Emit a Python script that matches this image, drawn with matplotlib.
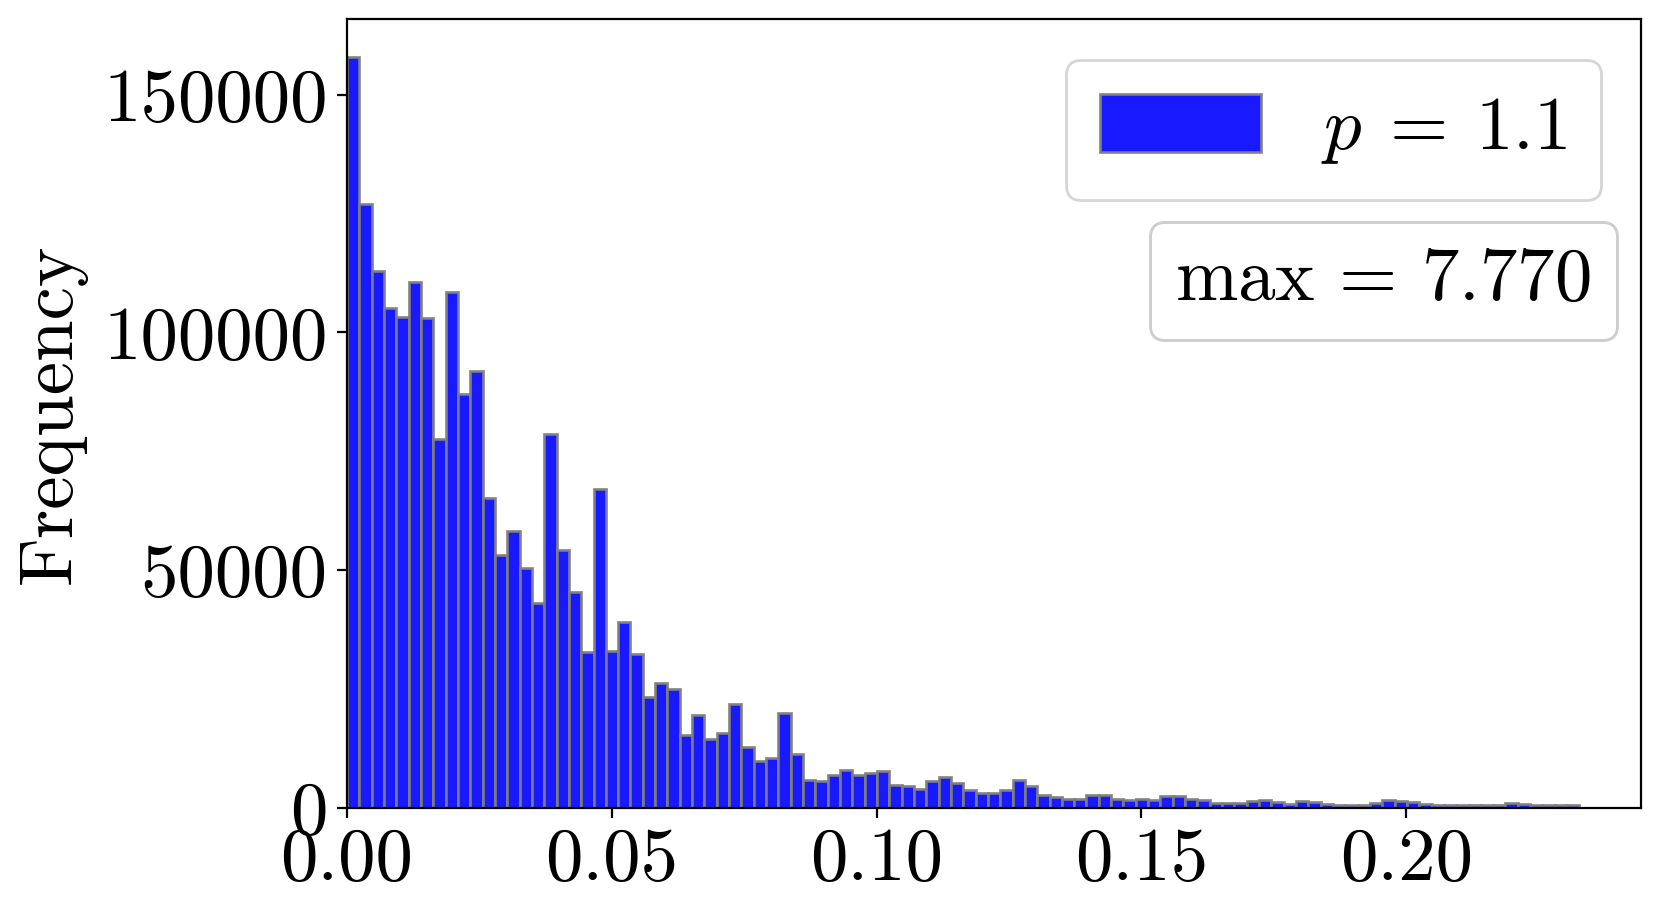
import numpy as np
from matplotlib import pyplot as plt
from matplotlib.offsetbox import AnchoredText

plt.rcParams["font.family"] = "serif"
plt.rcParams["font.serif"] = ["cmr10"]
plt.rcParams["mathtext.fontset"] = "cm"
plt.rcParams["axes.formatter.use_mathtext"] = True

# histogram: 100 equal bins from 0 to the max value
x_max = 0.2327
n_bins = 100
counts = [
    158000, 127000, 113000, 105100, 103300, 110700, 103000, 77600, 108500, 87000,
    91800, 65100, 53200, 58300, 50500, 43100, 78700, 54200, 45500, 32800,
    67000, 33000, 39100, 32400, 23300, 26300, 25000, 15400, 19600, 14500,
    15700, 21800, 12800, 9800, 10600, 19900, 11400, 6000, 5600, 6900,
    8000, 6900, 7300, 7700, 4900, 4600, 4000, 5600, 6600, 5300,
    3700, 3200, 3200, 3700, 5800, 4700, 2800, 2300, 2000, 2000,
    2700, 2800, 2000, 1700, 1900, 1750, 2500, 2500, 2000, 1700,
    1100, 1100, 1100, 1500, 1700, 1200, 850, 1500, 1200, 900,
    700, 650, 700, 1100, 1700, 1500, 1200, 850, 700, 550,
    550, 550, 600, 600, 1100, 750, 600, 550, 550, 550,
]
label = r"$p\:=\:1.1$"
max_text = r"$\max\,=\,7.770$"

fs = 27
fig, ax = plt.subplots(figsize=(8.31, 4.61), dpi=200)
fig.subplots_adjust(left=0.2088, right=0.9874, top=0.9794, bottom=0.1236)

edges = np.linspace(0, x_max, n_bins + 1)
ax.hist(edges[:-1], bins=edges, weights=counts, color="blue", alpha=0.9,
        edgecolor="grey", linewidth=1.0, label=label)

ax.set_xlim(0, x_max * 1.05)
ax.set_ylim(0, max(counts) * 1.05)
ax.set_xticks([0.0, 0.05, 0.10, 0.15, 0.20])
ax.set_xticklabels(["0.00", "0.05", "0.10", "0.15", "0.20"])
ax.set_yticks([0, 50000, 100000, 150000])
ax.set_yticklabels(["0", "50000", "100000", "150000"])
ax.tick_params(labelsize=fs)
ax.set_ylabel("Frequency", fontsize=fs, labelpad=6)

ax.legend(loc="upper right", bbox_to_anchor=(0.9688, 0.9475), borderaxespad=0,
          fontsize=fs, handlelength=2.15, handleheight=0.8, borderpad=0.45)

at = AnchoredText(max_text, loc="upper right", prop=dict(size=fs), frameon=True,
                  pad=0.34, borderpad=0, bbox_to_anchor=(0.9811, 0.7433),
                  bbox_transform=ax.transAxes)
at.patch.set_boxstyle("round,pad=0,rounding_size=0.2")
at.patch.set_edgecolor("0.8")
ax.add_artist(at)

plt.savefig("out.png", dpi=200)
